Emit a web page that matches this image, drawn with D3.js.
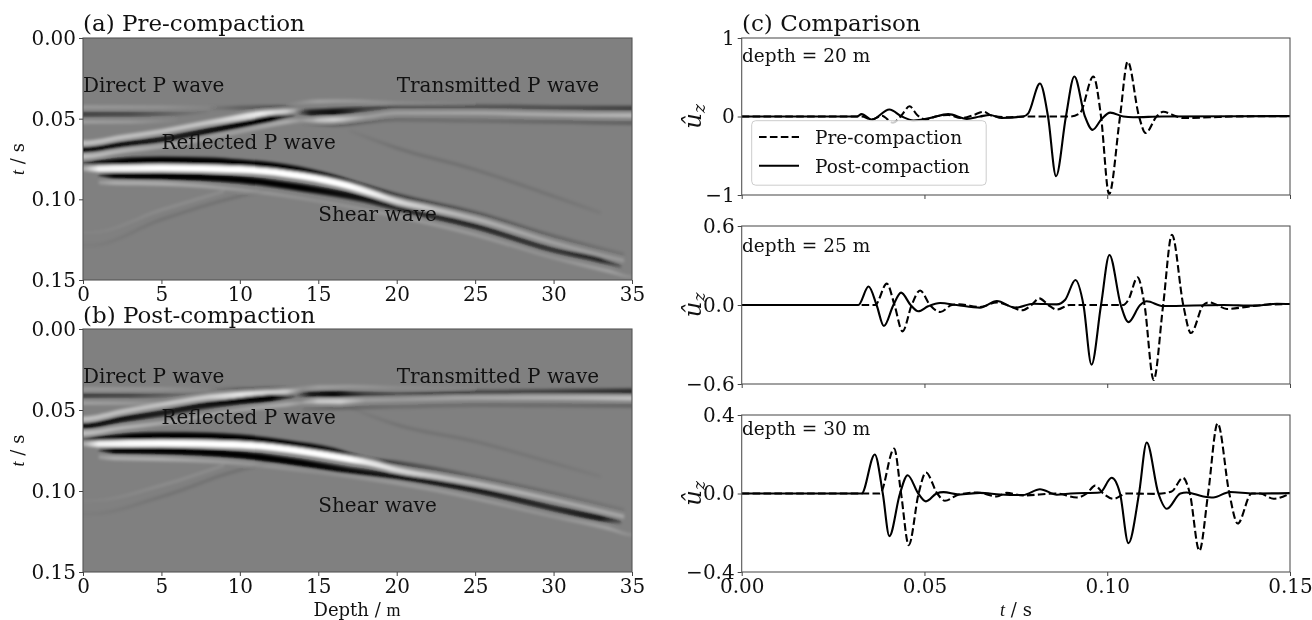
<!DOCTYPE html>
<html>
<head>
<meta charset="utf-8">
<script src="https://cdn.jsdelivr.net/npm/d3@7"></script>
<style>
html, body { margin: 0; padding: 0; background: #fff; }
svg { display: block; filter: blur(0.35px); }
text { font-family: "DejaVu Serif", serif; fill: #111; }
</style>
</head>
<body>
<div id="chart"></div>
<script>
// tick labels
var depthTicks = [0, 5, 10, 15, 20, 25, 30, 35];
var timeTicks = [0, 0.05, 0.10, 0.15];
var compareTicks = [0, 0.05, 0.10, 0.15];
var ampTicks20 = [-1, 0, 1];
var ampTicks25 = [-0.6, 0, 0.6];
var ampTicks30 = [-0.4, 0, 0.4];

// seismic sections: each lobe is rows of [depth m, time s, amplitude]
var preDirect1 = [[0,.0429,.2],[5,.0429,.15],[9,.043,0]];
var preDirect2 = [[0,.0472,-.5],[3,.0472,-.45],[6,.0468,-.2],[8,.0455,-.03]];
var preDirect3 = [[0,.052,.25],[3,.052,.2],[6,.051,.03]];
var preRefTop = [[8,.0435,-.04],[10,.0432,-.25],[12.5,.043,-.35],[14,.0432,-.04]];
var preTrans1 = [[13,.0412,0],[15,.0394,.25],[17,.0392,.2],[20,.0404,.1],[25,.041,.03]];
var preTrans2 = [[13.5,.0455,-.1],[14.5,.0462,-.8],[16,.0458,-.9],[18,.044,-.5],[20,.0425,-.35],[25,.0425,-.35],[30,.0432,-.4],[35,.0435,-.5]];
var preTrans3 = [[14,.0515,.1],[15,.051,.5],[16,.0507,.6],[18,.049,.25],[20,.0465,.25],[25,.0465,.3],[30,.0475,.35],[35,.048,.42]];
var preTrans4 = [[14,.0525,-.1],[16,.0538,-.25],[20,.0507,-.15],[25,.0515,-.15],[30,.052,-.2],[35,.0527,-.25]];
var preReflect1 = [[0,.0651,.5],[2.5,.0615,.5],[5,.0579,.5],[8,.0525,.55],[11.3,.0472,.85],[13,.0455,.6],[14,.044,.05]];
var preReflect2 = [[0,.0692,-.85],[2.5,.066,-.85],[5,.063,-.8],[7.5,.0585,-.85],[10,.0538,-.95],[12,.05,-1],[13.5,.048,-.3]];
var preReflect3 = [[0,.0734,.5],[2.5,.07,.4],[5,.0672,.3],[10,.058,.25],[13,.052,.35],[14.5,.0505,.1]];
var preShear1 = [[0,.0775,-.3],[1,.0775,-.85],[3,.0762,-1],[5,.0758,-1],[8,.0762,-1],[10,.0775,-1],[13,.0806,-1],[16,.0868,-.9],[18,.0925,-.75],[20,.0977,-.5],[25,.1084,-.3],[30,.1228,-.2],[34.5,.1341,-.1]];
var preShear2 = [[0,.081,.3],[1,.081,.9],[5,.0806,1],[10,.0816,1],[14,.0857,1],[17,.0919,1],[18.5,.0964,.9],[20,.1012,.7],[22.5,.1065,.5],[25,.1121,.4],[30,.1269,.28],[34.5,.138,.2]];
var preShear3 = [[1,.0845,-.4],[2,.0853,-.95],[5,.0857,-1],[10,.0878,-1],[14,.0929,-1],[17.9,.0997,-.85],[20,.1053,-.65],[25,.1166,-.7],[30,.1315,-.6],[33,.1375,-.7],[34.3,.1414,-.25]];
var preShear4 = [[1,.0895,.2],[2,.0898,.35],[5,.0903,.35],[10,.094,.2],[15,.101,.12],[20,.1104,.2],[25,.1218,.2],[30,.1362,.15],[33.5,.1444,.25],[35,.148,.1]];
var preHead = [[17,.0575,-.03],[20,.0682,-.12],[25,.0816,-.12],[30,.0981,-.1],[33,.1084,-.05]];
var preFaint1 = [[0.5,.1285,-.03],[5,.1125,-.1],[10,.098,-.12],[12,.094,-.02]];
var preFaint2 = [[0.5,.1205,.03],[5,.1065,.1],[9,.095,.1]];

var postDirect1 = [[0,.0371,.2],[5,.0371,.15],[9,.0375,0]];
var postDirect2 = [[0,.041,-.5],[3,.041,-.45],[6,.0405,-.2],[8,.0395,-.03]];
var postDirect3 = [[0,.0457,.25],[3,.0457,.2],[6,.045,.03]];
var postRefTop = [[8,.0378,-.04],[10,.0372,-.25],[12.5,.037,-.3],[14,.0372,-.04]];
var postTrans1 = [[13,.0375,0],[15,.0359,.25],[17,.0355,.2],[20,.0362,.1],[25,.0365,.03]];
var postTrans2 = [[13.5,.0405,-.1],[14.5,.0402,-.8],[16,.0402,-.95],[18,.0402,-.5],[20,.0402,-.35],[25,.0392,-.45],[30,.0388,-.5],[35,.0385,-.65]];
var postTrans3 = [[14,.0452,.1],[15,.0447,.55],[16.4,.0447,.6],[18,.044,.25],[20,.0437,.22],[25,.0425,.3],[30,.0425,.38],[35,.0427,.5]];
var postTrans4 = [[14,.0495,-.1],[16,.0488,-.22],[20,.048,-.15],[25,.047,-.15],[30,.0472,-.18],[35,.0474,-.22]];
var postReflect1 = [[0,.0556,.5],[2.5,.051,.5],[5,.0468,.5],[8,.042,.6],[10,.0406,.8],[13,.0385,.6],[14,.037,.05]];
var postReflect2 = [[0,.0598,-.85],[2.5,.0555,-.85],[5,.0519,-.8],[7.5,.0475,-.85],[10,.0443,-.95],[12,.0425,-1],[13.5,.0412,-.3]];
var postReflect3 = [[0,.0643,.5],[2.5,.061,.4],[5,.0581,.3],[10,.0499,.25],[13,.0465,.35],[14.5,.045,.1]];
var postShear1 = [[0,.0678,-.3],[1,.0678,-.85],[3,.0665,-1],[5,.0659,-1],[8,.0662,-1],[10,.0674,-1],[13,.0709,-1],[16,.0756,-.9],[18,.081,-.75],[20,.0828,-.45],[25,.0911,-.22],[30,.1014,-.15],[34.5,.1117,-.08]];
var postShear2 = [[0,.0709,.3],[1,.0709,.9],[5,.0705,1],[10,.0715,1],[14,.0756,1],[17,.0804,1],[18.5,.083,.85],[20,.087,.7],[22.5,.091,.55],[25,.0952,.45],[30,.1055,.35],[34.5,.1158,.3]];
var postShear3 = [[1,.074,-.4],[2,.075,-.95],[5,.0752,-1],[10,.0777,-1],[14,.0828,-1],[17,.0875,-.9],[20,.0911,-.8],[25,.0993,-.8],[30,.1107,-.7],[33,.1168,-.8],[34.3,.1189,-.3]];
var postShear4 = [[1,.079,.2],[2,.0797,.35],[5,.0803,.35],[10,.0828,.2],[15,.0885,.12],[20,.0952,.2],[25,.1045,.2],[30,.1158,.15],[33.5,.123,.25],[35,.127,.1]];
var postHead = [[17,.0485,-.03],[20,.0591,-.1],[25,.0694,-.1],[30,.0828,-.08],[33,.0911,-.04]];
var postFaint1 = [[0.5,.114,-.03],[5,.1035,-.1],[10,.087,-.12],[12,.083,-.02]];
var postFaint2 = [[0.5,.106,.03],[5,.0965,.1],[9,.084,.1]];

// traces: rows of [time s, amplitude]
var pre20 = [[0,0],[.0328,0],[.0356,-.04],[.0383,.01],[.0414,-.08],[.0438,.02],[.0459,.13],[.048,.02],[.0503,-.04],[.053,0],[.0565,.02],[.06,-.02],[.0635,.02],[.0661,.06],[.0685,.01],[.0725,-.01],[.078,0],[.0898,0],[.0925,.04],[.0962,.51],[.0983,0],[.1005,-.99],[.1035,0],[.1056,.7],[.1087,0],[.1105,-.21],[.1135,0],[.1153,.06],[.119,0],[.1208,-.02],[.128,-.01],[.135,0],[.15,.005]];
var post20 = [[0,0],[.0315,0],[.0328,.03],[.0356,-.04],[.0404,.09],[.0438,0],[.047,-.05],[.0515,-.02],[.0565,.03],[.0616,-.03],[.0652,0],[.0679,.02],[.0711,-.02],[.077,0],[.0784,.04],[.0816,.42],[.0838,0],[.086,-.76],[.0887,0],[.091,.51],[.0939,0],[.096,-.17],[.0985,-.03],[.1008,.05],[.1044,0],[.1071,-.01],[.115,0],[.15,.005]];
var pre25 = [[0,0],[.0365,0],[.0397,.162],[.0418,0],[.044,-.2],[.0465,0],[.0488,.11],[.0515,0],[.0543,-.053],[.0575,0],[.0595,.005],[.0652,-.015],[.0698,.02],[.0735,-.01],[.0766,-.04],[.0793,0],[.0814,.05],[.0839,0],[.0862,-.035],[.0898,0],[.1044,0],[.1058,.04],[.1083,.21],[.1102,0],[.1127,-.57],[.1153,0],[.1177,.534],[.1208,0],[.1229,-.213],[.1263,0],[.1279,.02],[.13,0],[.1327,-.03],[.1391,-.01],[.1425,0],[.15,.008]];
var post25 = [[0,0],[.0319,0],[.0347,.14],[.0369,0],[.0389,-.16],[.0415,0],[.0436,.094],[.0462,0],[.0483,-.048],[.051,-.01],[.0543,.015],[.0588,0],[.0652,-.02],[.0698,.03],[.0748,-.02],[.0798,.01],[.0862,.005],[.0885,.04],[.0913,.19],[.0935,0],[.0957,-.453],[.0983,0],[.1006,.38],[.1037,0],[.1058,-.13],[.109,0],[.1108,.028],[.1153,-.008],[.1318,0],[.14,-.005],[.1464,.01],[.15,.008]];
var pre30 = [[0,0],[.0378,0],[.0417,.229],[.0436,0],[.0457,-.263],[.0484,0],[.0504,.107],[.0535,0],[.0556,-.037],[.0594,-.005],[.0645,.005],[.0698,-.015],[.0725,.003],[.077,-.01],[.086,0],[.0917,-.02],[.0944,0],[.0967,.04],[.0989,0],[.1017,-.027],[.1053,0],[.1135,-.002],[.1176,.01],[.1207,.08],[.1226,0],[.1252,-.292],[.1276,0],[.1302,.358],[.1334,0],[.1357,-.153],[.1395,0],[.1418,0],[.1455,-.027],[.15,0]];
var post30 = [[0,0],[.0328,0],[.0364,.199],[.0386,0],[.0404,-.217],[.0433,0],[.0454,.093],[.0483,0],[.0504,-.04],[.0533,0],[.0552,.007],[.0594,-.005],[.0652,.003],[.0707,-.005],[.077,-.008],[.0816,.022],[.0862,-.006],[.09,0],[.098,.005],[.1012,.08],[.1035,0],[.1058,-.253],[.1087,0],[.1108,.26],[.114,0],[.1163,-.078],[.12,0],[.1217,.005],[.1263,-.015],[.129,-.02],[.1336,.008],[.14,0],[.15,.002]];

var preLobes = [preHead, preFaint1, preFaint2, preDirect1, preDirect2, preDirect3, preRefTop, preTrans1, preTrans4, preTrans3, preTrans2, preReflect3, preReflect1, preReflect2, preShear4, preShear1, preShear3, preShear2];
var postLobes = [postHead, postFaint1, postFaint2, postDirect1, postDirect2, postDirect3, postRefTop, postTrans1, postTrans4, postTrans3, postTrans2, postReflect3, postReflect1, postReflect2, postShear4, postShear1, postShear3, postShear2];

var width = 1312, height = 620;
var fontSize = 20;
var svg = d3.select('#chart').append('svg').attr('width', width).attr('height', height);
var defs = svg.append('defs');
defs.append('filter').attr('id', 'soften')
	.attr('filterUnits', 'userSpaceOnUse').attr('x', 0).attr('y', 0).attr('width', width).attr('height', height)
	.append('feGaussianBlur').attr('stdDeviation', 1.5);

var uid = 0;

function frame(g, x, y) {
	g.append('rect')
		.attr('x', x.range()[0]).attr('y', y.range()[1])
		.attr('width', x.range()[1] - x.range()[0]).attr('height', y.range()[0] - y.range()[1])
		.attr('fill', 'none').attr('stroke', '#555').attr('stroke-width', 1.1);
}

// tick marks and labels through d3 axes, restyled like matplotlib
function styleAxis(sel) {
	sel.select('.domain').remove();
	sel.selectAll('.tick line').attr('stroke', '#444').attr('stroke-width', 1);
	sel.selectAll('.tick text').attr('font-family', '"DejaVu Serif", serif').attr('font-size', fontSize).attr('fill', '#111');
}

function section(lobes, top, bottom, title, titleY, labels) {
	var x = d3.scaleLinear().domain([0, 35]).range([83, 632]);
	var y = d3.scaleLinear().domain([0.15, 0]).range([bottom, top]);
	var id = 'clip' + (++uid);
	defs.append('clipPath').attr('id', id).append('rect')
		.attr('x', 83).attr('y', top).attr('width', 549).attr('height', bottom - top);
	var g = svg.append('g');
	g.append('rect').attr('x', 83).attr('y', top).attr('width', 549).attr('height', bottom - top).attr('fill', '#808080');

	var plot = g.append('g').attr('clip-path', 'url(#' + id + ')').append('g').attr('filter', 'url(#soften)');
	var area = d3.area().curve(d3.curveMonotoneX)
		.x(function(d) { return x(d[0]); })
		.y0(function(d) { return y(d[1] - (0.0018 + 0.0026 * Math.abs(d[2])) / 2); })
		.y1(function(d) { return y(d[1] + (0.0018 + 0.0026 * Math.abs(d[2])) / 2); });

	lobes.forEach(function(rows) {
		var first = rows[0], last = rows[rows.length - 1];
		// run lobes touching the frame a little past it so the blur does not fade at the edge
		var padded = rows.slice();
		if (first[0] <= 0.5) padded.unshift([first[0] - 3, first[1], first[2]]);
		if (last[0] >= 35) padded.push([last[0] + 3, last[1], last[2]]);
		var x0 = x(padded[0][0]), x1 = x(padded[padded.length - 1][0]);
		var gid = 'lobe' + (++uid);
		var tone = d3.max(rows, function(d) { return d[2]; }) > 0 ? '#fff' : '#000';
		var grad = defs.append('linearGradient').attr('id', gid).attr('gradientUnits', 'userSpaceOnUse')
			.attr('x1', x0).attr('x2', x1).attr('y1', 0).attr('y2', 0);
		grad.selectAll('stop').data(padded).enter().append('stop')
			.attr('offset', function(d) { return (x(d[0]) - x0) / (x1 - x0); })
			.attr('stop-color', tone)
			.attr('stop-opacity', function(d) { return Math.abs(d[2]); });
		plot.append('path').attr('d', area(padded)).attr('fill', 'url(#' + gid + ')');
	});

	frame(g, x, y);
	g.append('g').attr('transform', 'translate(0,' + bottom + ')')
		.call(d3.axisBottom(x).tickValues(depthTicks).tickFormat(d3.format('d')).tickSize(4).tickPadding(3))
		.call(styleAxis);
	g.append('g').attr('transform', 'translate(83,0)')
		.call(d3.axisLeft(y).tickValues(timeTicks).tickFormat(d3.format('.2f')).tickSize(4).tickPadding(3))
		.call(styleAxis);

	g.append('text').attr('x', 83).attr('y', titleY).attr('font-size', 23).text(title);
	labels.forEach(function(l) {
		g.append('text').attr('x', x(l[0])).attr('y', y(l[1])).attr('font-size', fontSize).text(l[2]);
	});

	var yl = g.append('text').attr('transform', 'translate(24,' + (top + bottom) / 2 + ') rotate(-90)')
		.attr('text-anchor', 'middle').attr('font-size', 18);
	yl.append('tspan').attr('font-family', '"Liberation Serif", serif').attr('font-style', 'italic').text('t');
	yl.append('tspan').text(' / s');
}

section(preLobes, 38, 280, '(a) Pre-compaction', 31, [
	[0, 0.0335, 'Direct P wave'], [20, 0.0335, 'Transmitted P wave'],
	[5, 0.0685, 'Reflected P wave'], [15, 0.1135, 'Shear wave']]);
section(postLobes, 329, 572, '(b) Post-compaction', 323, [
	[0, 0.0335, 'Direct P wave'], [20, 0.0335, 'Transmitted P wave'],
	[5, 0.0585, 'Reflected P wave'], [15, 0.113, 'Shear wave']]);

var line = function(x, y) {
	return d3.line().curve(d3.curveMonotoneX)
		.x(function(d) { return x(d[0]); })
		.y(function(d) { return y(d[1]); });
};

function trace(top, bottom, yDomain, ticks, fmt, pre, post, depthLabel, labelY, showX) {
	var x = d3.scaleLinear().domain([0, 0.15]).range([741.7, 1290]);
	var y = d3.scaleLinear().domain(yDomain).range([bottom, top]);
	var g = svg.append('g');
	var id = 'clip' + (++uid);
	defs.append('clipPath').attr('id', id).append('rect')
		.attr('x', 741.7).attr('y', top).attr('width', 548.3).attr('height', bottom - top);
	var plot = g.append('g').attr('clip-path', 'url(#' + id + ')');
	plot.append('path').attr('d', line(x, y)(pre)).attr('fill', 'none').attr('stroke', '#000')
		.attr('stroke-width', 2.1).attr('stroke-dasharray', '7.6,3.3');
	plot.append('path').attr('d', line(x, y)(post)).attr('fill', 'none').attr('stroke', '#000').attr('stroke-width', 2.1);
	frame(g, x, y);
	g.append('g').attr('transform', 'translate(0,' + bottom + ')')
		.call(d3.axisBottom(x).tickValues(compareTicks).tickFormat(showX ? d3.format('.2f') : '').tickSize(4).tickPadding(3))
		.call(styleAxis);
	g.append('g').attr('transform', 'translate(741.7,0)')
		.call(d3.axisLeft(y).tickValues(ticks).tickFormat(fmt).tickSize(4).tickPadding(3))
		.call(styleAxis);
	g.append('text').attr('x', 742).attr('y', labelY).attr('font-size', 18.5).text(depthLabel);
	var yl = g.append('text').attr('transform', 'translate(701,' + (top + bottom) / 2 + ') rotate(-90)')
		.attr('text-anchor', 'middle').attr('font-family', '"Liberation Serif", serif').attr('font-style', 'italic').attr('font-size', 25);
	yl.append('tspan').text('u\u0302');
	yl.append('tspan').attr('font-size', 17).attr('dy', 4).text('z');
	return g;
}

var minus = function(f) { return function(v) { return d3.format(f)(v).replace('-', '\u2212'); }; };
var top1 = trace(38, 195, [-1, 1], ampTicks20, minus('d'), pre20, post20, 'depth = 20 m', 62, false);
trace(226, 384, [-0.6, 0.6], ampTicks25, minus('.1f'), pre25, post25, 'depth = 25 m', 252, false);
trace(415, 572, [-0.4, 0.4], ampTicks30, minus('.1f'), pre30, post30, 'depth = 30 m', 435, true);

svg.append('text').attr('x', 742).attr('y', 31).attr('font-size', 23).text('(c) Comparison');

// legend
var legend = top1.append('g');
legend.append('rect').attr('x', 751.7).attr('y', 120.7).attr('width', 234.5).attr('height', 64.5).attr('rx', 4)
	.attr('fill', '#fff').attr('fill-opacity', 0.8).attr('stroke', '#ccc').attr('stroke-width', 1);
legend.append('line').attr('x1', 759).attr('x2', 799).attr('y1', 137).attr('y2', 137)
	.attr('stroke', '#000').attr('stroke-width', 2.1).attr('stroke-dasharray', '7.6,3.3');
legend.append('line').attr('x1', 759).attr('x2', 799).attr('y1', 165.7).attr('y2', 165.7)
	.attr('stroke', '#000').attr('stroke-width', 2.1);
legend.append('text').attr('x', 815).attr('y', 144).attr('font-size', 18.5).text('Pre-compaction');
legend.append('text').attr('x', 815).attr('y', 172.7).attr('font-size', 18.5).text('Post-compaction');

// bottom labels
var depthLabel = svg.append('text').attr('x', 357).attr('y', 616).attr('text-anchor', 'middle').attr('font-size', 18);
depthLabel.append('tspan').text('Depth / ');
depthLabel.append('tspan').attr('font-family', '"Liberation Serif", serif').text('m');
var timeLabel = svg.append('text').attr('x', 1016).attr('y', 616).attr('text-anchor', 'middle').attr('font-size', 18);
timeLabel.append('tspan').attr('font-family', '"Liberation Serif", serif').attr('font-style', 'italic').text('t');
timeLabel.append('tspan').text(' / s');
</script>
</body>
</html>
